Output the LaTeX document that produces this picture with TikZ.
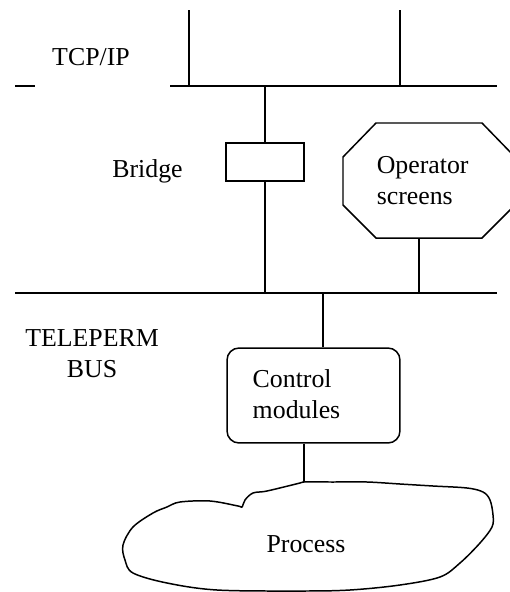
\documentclass[tikz,border=0pt]{standalone}
\usepackage{fontspec}
\setmainfont{Liberation Serif}
\usepackage{tikz}

\begin{document}
\begin{tikzpicture}[x=0.02cm, y=-0.02cm, line width=0.85pt,
  lbl/.style={font=\fontsize{14.7}{17.6}\selectfont, inner sep=0pt},
  box/.style={draw, inner sep=0pt}]

\useasboundingbox (0,0) rectangle (510,592);

% nodes
\node (tcp) [lbl, anchor=base] at (91,65) {TCP/IP};
\node (bridgelbl) [lbl, anchor=base] at (147.5,177) {Bridge};
\node (bridge) [box, minimum width=1.56cm, minimum height=0.76cm] at (265,162) {};
\node (ops) [lbl, anchor=base west, align=left] at (376,204) {Operator\\screens};
\node (bus) [lbl, anchor=base, align=center] at (92,377) {TELEPERM\\BUS};
\node (ctrl) [box, rounded corners=0.24cm, minimum width=3.46cm, minimum height=1.9cm] at (313.5,395.5) {};
\node (ctrllbl) [lbl, anchor=base west, align=left] at (252,418) {Control\\modules};
\node (proc) [lbl, anchor=base] at (306,552) {Process};

% bus ends and taps
\coordinate (dashL) at (15,86);
\coordinate (dashR) at (35,86);
\coordinate (tcpL) at (170,86);
\coordinate (tcpR) at (497,86);
\coordinate (busL) at (15,293);
\coordinate (busR) at (497,293);
\coordinate (tapA) at (189,10);
\coordinate (tapB) at (400,10);
\coordinate (opsS) at (419,238);
\coordinate (ctrlN) at (323,293);
\coordinate (proctop) at (304,482);

% buses
\draw (dashL) -- (dashR);
\draw (tcpL) -- (tcpR);
\draw (busL) -- (busR);

% operator screens
\draw (376,123) -- (482,123) -- (515,157) -- (515,205) -- (482,238)
  -- (376,238) -- (343,205) -- (343,157) -- cycle;

% process
\draw plot[smooth cycle, tension=0.55] coordinates {
  (304,482) (333,482) (367,482) (400,484) (433,486) (467,488) (483,492)
  (490,500) (493,515) (492,527) (480,543) (460,563) (440,577) (400,585)
  (350,590) (300,591) (217,590) (167,583) (133,573) (125,560) (123,545)
  (133,527) (153,513) (167,507) (180,502) (210,501) (238,506) (242,507)
  (245,500) (253,493) (267,491) (300,483)};

% lines
\draw (tapA) -- (tapA |- tcpL);
\draw (tapB) -- (tapB |- tcpL);
\draw (bridge.north |- tcpL) -- (bridge.north);
\draw (bridge.south) -- (bridge.south |- busL);
\draw (opsS) -- (opsS |- busL);
\draw (ctrlN) -- (ctrlN |- ctrl.north);
\draw (proctop |- ctrl.south) -- (proctop);

\end{tikzpicture}
\end{document}
